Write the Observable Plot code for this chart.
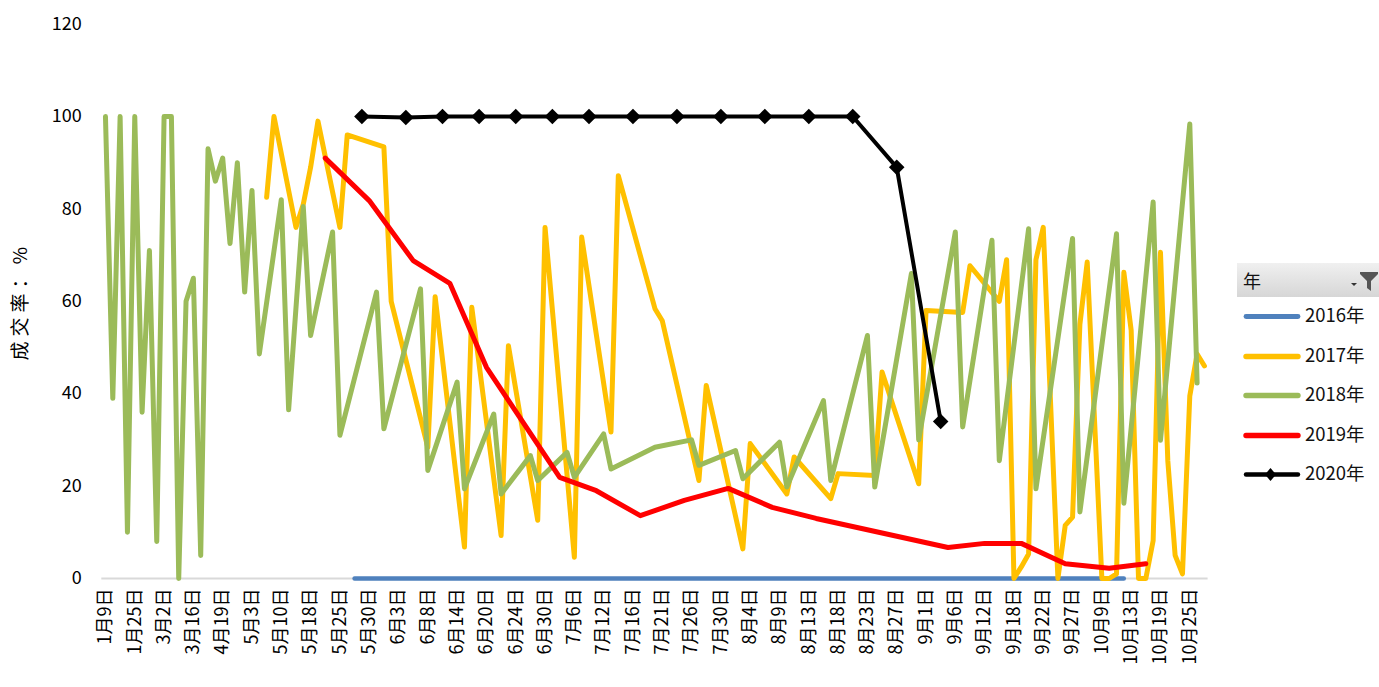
<!DOCTYPE html>
<html>
<head>
<meta charset="utf-8">
<script src="https://cdn.jsdelivr.net/npm/d3@7"></script>
<script src="https://cdn.jsdelivr.net/npm/@observablehq/plot@0.6"></script>
<style>
  html, body { margin: 0; padding: 0; background: #fff; }
  #wrap { position: relative; width: 1379px; height: 687px; overflow: hidden;
          font-family: "Noto Sans CJK SC", "Noto Sans", sans-serif; }
  #legend { position: absolute; left: 1237px; top: 263px; width: 142px; }
  #legend .hdr { height: 34px; background: linear-gradient(#f0f0f0, #d6d6d6);
                 position: relative; font-size: 18px; line-height: 34px; padding-left: 6px; color: #111; }
  #legend .hdr svg { position: absolute; right: 0; top: 7px; }
  #legend .item { position: relative; height: 39.5px; font-size: 18.5px; color: #111; }
  #legend .item svg { position: absolute; left: 6px; top: 10px; }
  #legend .item span { position: absolute; left: 68px; top: 5px; line-height: 24px; }
</style>
</head>
<body>
<div id="wrap"></div>
<script>
// x categories (month/day); every 4th one is labelled on the axis
const dates = [
  "1月9日","1月12日","1月16日","1月19日","1月25日","2月1日","2月14日","2月23日",
  "3月2日","3月5日","3月9日","3月12日","3月16日","3月23日","3月30日","4月12日",
  "4月19日","4月23日","4月26日","4月28日","5月3日","5月4日","5月7日","5月8日",
  "5月10日","5月11日","5月14日","5月16日","5月18日","5月21日","5月22日","5月23日",
  "5月25日","5月26日","5月28日","5月29日","5月30日","5月31日","6月1日","6月2日",
  "6月3日","6月4日","6月5日","6月6日","6月8日","6月9日","6月11日","6月12日",
  "6月14日","6月15日","6月17日","6月19日","6月20日","6月21日","6月22日","6月23日",
  "6月24日","6月26日","6月27日","6月28日","6月30日","7月2日","7月3日","7月5日",
  "7月6日","7月7日","7月9日","7月10日","7月12日","7月13日","7月14日","7月15日",
  "7月16日","7月17日","7月18日","7月20日","7月21日","7月22日","7月23日","7月24日",
  "7月26日","7月27日","7月28日","7月29日","7月30日","7月31日","8月1日","8月2日",
  "8月4日","8月5日","8月6日","8月8日","8月9日","8月10日","8月11日","8月12日",
  "8月13日","8月14日","8月15日","8月17日","8月18日","8月19日","8月20日","8月22日",
  "8月23日","8月24日","8月25日","8月26日","8月27日","8月28日","8月30日","8月31日",
  "9月1日","9月2日","9月3日","9月5日","9月6日","9月7日","9月9日","9月10日",
  "9月12日","9月13日","9月14日","9月17日","9月18日","9月19日","9月20日","9月21日",
  "9月22日","9月23日","9月25日","9月26日","9月27日","9月28日","9月29日","10月8日",
  "10月9日","10月10日","10月11日","10月12日","10月13日","10月14日","10月16日","10月18日",
  "10月19日","10月20日","10月22日","10月23日","10月25日","10月26日","10月27日"
];
const tickDates = [
  "1月9日","1月25日","3月2日","3月16日","4月19日","5月3日","5月10日","5月18日",
  "5月25日","5月30日","6月3日","6月8日","6月14日","6月20日","6月24日","6月30日",
  "7月6日","7月12日","7月16日","7月21日","7月26日","7月30日","8月4日","8月9日",
  "8月13日","8月18日","8月23日","8月27日","9月1日","9月6日","9月12日","9月18日",
  "9月22日","9月27日","10月9日","10月13日","10月19日","10月25日"
];
const yTicks = [0, 20, 40, 60, 80, 100, 120];

const s2016 = [["5月28日",0],["6月30日",0],["8月6日",0],["9月12日",0],["10月12日",0]];

const s2017 = [
  ["5月7日",82.5],["5月8日",100],["5月14日",76],["5月16日",81],["5月18日",89],["5月21日",99],
  ["5月25日",76],["5月26日",96],["6月1日",93.4],["6月2日",60],["6月8日",28.4],["6月9日",61],
  ["6月15日",6.8],["6月17日",58.7],["6月22日",9.3],["6月23日",50.4],["6月28日",12.6],["6月30日",76],
  ["7月6日",4.6],["7月7日",73.9],["7月13日",31.7],["7月14日",87.2],["7月20日",58.4],["7月21日",55.8],
  ["7月27日",21.2],["7月28日",41.8],["8月2日",6.4],["8月4日",29.2],["8月10日",18.3],["8月11日",26.3],
  ["8月17日",17.3],["8月18日",22.7],["8月24日",22.3],["8月25日",44.7],["8月31日",20.5],["9月1日",58],
  ["9月7日",57.6],["9月9日",67.7],["9月14日",60],["9月17日",69],["9月18日",0],["9月19日",2.5],
  ["9月20日",5.3],["9月21日",69],["9月22日",76],["9月25日",0],["9月26日",11.5],["9月27日",13.3],
  ["9月28日",55],["9月29日",68.5],["10月9日",0],["10月10日",0],["10月11日",1],["10月12日",66.3],
  ["10月13日",53.7],["10月14日",0],["10月16日",0],["10月18日",8.2],["10月19日",70.6],["10月20日",25.5],
  ["10月22日",5],["10月23日",1],["10月25日",39.5],["10月26日",48.6],["10月27日",46]
];

const s2018 = [
  ["1月9日",100],["1月12日",39],["1月16日",100],["1月19日",10],["1月25日",100],["2月1日",36],
  ["2月14日",71],["2月23日",8],["3月2日",100],["3月5日",100],["3月9日",0],["3月12日",60],
  ["3月16日",65],["3月23日",5],["3月30日",93],["4月12日",86],["4月19日",91],["4月23日",72.5],
  ["4月26日",90],["4月28日",62],["5月3日",84],["5月4日",48.6],["5月10日",82],["5月11日",36.5],
  ["5月16日",80.5],["5月18日",52.6],["5月23日",75],["5月25日",31],["5月31日",62],["6月1日",32.4],
  ["6月6日",62.7],["6月8日",23.4],["6月14日",42.5],["6月15日",19.4],["6月21日",35.6],["6月22日",18.3],
  ["6月27日",26.6],["6月28日",21.2],["7月5日",27.3],["7月6日",21.9],["7月12日",31.3],["7月13日",23.7],
  ["7月20日",28.4],["7月26日",30],["7月27日",24.5],["8月1日",27.7],["8月2日",21.6],["8月9日",29.5],
  ["8月10日",19.8],["8月15日",38.5],["8月17日",21.2],["8月23日",52.6],["8月24日",19.8],["8月30日",66],
  ["8月31日",30],["9月6日",75],["9月7日",32.8],["9月13日",73.2],["9月14日",25.5],["9月20日",75.7],
  ["9月21日",19.4],["9月27日",73.6],["9月28日",14.4],["10月11日",74.6],["10月12日",16.3],["10月18日",81.5],
  ["10月19日",29.9],["10月25日",98.4],["10月26日",42.3]
];

const s2019 = [
  ["5月22日",91],["5月30日",81.8],["6月5日",68.8],["6月12日",63.9],["6月20日",45.7],["7月3日",21.9],
  ["7月10日",19],["7月17日",13.6],["7月24日",16.9],["7月31日",19.5],["8月8日",15.4],["8月14日",13],
  ["9月5日",6.7],["9月12日",7.6],["9月19日",7.6],["9月26日",3.2],["10月10日",2.2],["10月16日",3.2]
];

const s2020 = [
  ["5月29日",100],["6月4日",99.8],["6月11日",100],["6月19日",100],["6月24日",100],["7月2日",100],
  ["7月9日",100],["7月16日",100],["7月23日",100],["7月30日",100],["8月6日",100],["8月13日",100],
  ["8月20日",100],["8月27日",89],["9月3日",34]
];

const seriesNames = ["2016年", "2017年", "2018年", "2019年", "2020年"];
const seriesColors = ["#4f81bd", "#ffc000", "#9bbb59", "#ff0000", "#000000"];
const seriesData = [s2016, s2017, s2018, s2019, s2020];
const seriesWidths = [4.4, 5, 5, 5, 4];

const rows = s => s.map(([d, v]) => ({d, v}));

const lineMarks = seriesData.map((s, i) =>
  Plot.line(rows(s), {x: "d", y: "v", stroke: seriesColors[i], strokeWidth: seriesWidths[i],
    strokeLinejoin: "round", strokeLinecap: "round"}));

const chart = Plot.plot({
  width: 1379,
  height: 687,
  marginLeft: 101.3,
  marginRight: 171.4,
  marginTop: 23.6,
  marginBottom: 109,
  style: {background: "#fff", fontFamily: "'Noto Sans CJK SC', 'Noto Sans', sans-serif", color: "#000"},
  x: {type: "point", domain: dates, padding: 0.5},
  y: {domain: [0, 120]},
  marks: [
    Plot.ruleY([0], {stroke: "#d9d9d9", strokeWidth: 1.8}),
    Plot.axisY({ticks: yTicks, tickSize: 0, tickPadding: 20, fontSize: 18, label: null}),
    Plot.axisX({ticks: tickDates, tickSize: 0, tickPadding: 10, tickRotate: -90, fontSize: 18, label: null}),
    Plot.text(["成交率：%"], {frameAnchor: "left", dx: -81, rotate: -90, text: d => d,
      textAnchor: "middle", fontSize: 19, fill: "#000"}),
    ...lineMarks,
    Plot.dot(rows(s2020), {x: "d", y: "v", symbol: "diamond2", r: 7, fill: "#000", stroke: "none"})
  ]
});
chart.querySelectorAll("text").forEach(t => { if (t.textContent === "成交率：%") t.setAttribute("letter-spacing", "5"); });

const wrap = document.getElementById("wrap");
wrap.appendChild(chart);

// legend
const lg = document.createElement("div");
lg.id = "legend";
let html = `<div class="hdr">年<svg width="32" height="22" viewBox="0 0 32 22">
  <polygon points="4,13 10,13 7,16" fill="#333"/>
  <polygon points="13,2 31,2 31,4 24,11 24,21 20,18 20,11 13,4" fill="#555"/></svg></div>`;
seriesNames.forEach((n, i) => {
  const marker = i === 4 ? `<polygon points="27.5,3 33,9.5 27.5,16 22,9.5" fill="#000"/>` : "";
  html += `<div class="item"><svg width="60" height="20"><line x1="3" y1="9.5" x2="55" y2="9.5"
    stroke="${seriesColors[i]}" stroke-width="${seriesWidths[i] + 0.4}" stroke-linecap="round"/>${marker}</svg><span>${n}</span></div>`;
});
lg.innerHTML = html;
wrap.appendChild(lg);
</script>
</body>
</html>
